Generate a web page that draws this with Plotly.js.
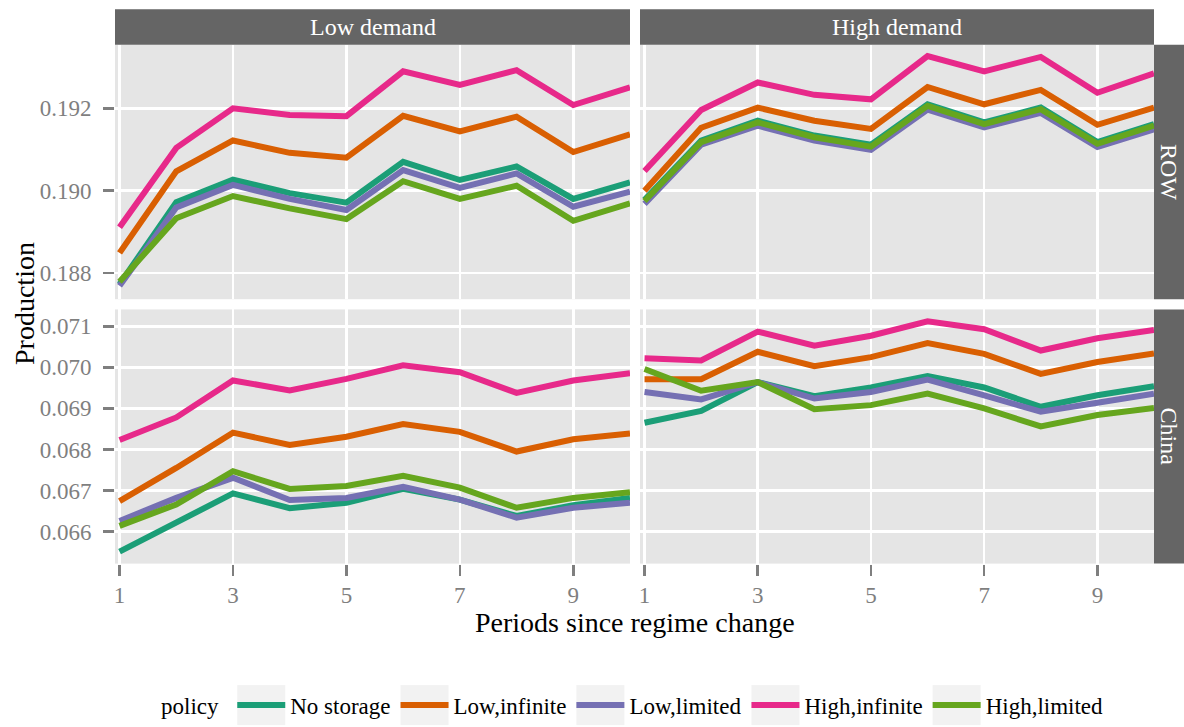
<!DOCTYPE html>
<html>
<head>
<meta charset="utf-8">
<script src="https://cdn.plot.ly/plotly-3.0.1.min.js"></script>
<style>
  html, body { margin: 0; padding: 0; background: #ffffff; }
  #chart { width: 1184px; height: 727px; }
</style>
</head>
<body>
<div id="chart"></div>
<script>
// Periods since the regime change (x values shared by every panel)
const periods = [1, 2, 3, 4, 5, 6, 7, 8, 9, 10];

// Storage policies, in legend order, with their colours
const policies = ["No storage", "Low,infinite", "Low,limited", "High,infinite", "High,limited"];
const policyColors = ["#1B9E77", "#D95F02", "#7570B3", "#E7298A", "#66A61E"];

// Facet labels
const demandLabels = ["Low demand", "High demand"];
const regionLabels = ["ROW", "China"];

// Production, ROW, low demand (one array per policy, same order as `policies`)
const rowLowNoStorage   = [0.18773, 0.18972, 0.19027, 0.18994, 0.18971, 0.19070, 0.19026, 0.19059, 0.18980, 0.19020];
const rowLowLowInf      = [0.18849, 0.19047, 0.19122, 0.19092, 0.19080, 0.19182, 0.19144, 0.19180, 0.19094, 0.19137];
const rowLowLowLim      = [0.18769, 0.18959, 0.19014, 0.18980, 0.18953, 0.19050, 0.19007, 0.19042, 0.18961, 0.18998];
const rowLowHighInf     = [0.18911, 0.19104, 0.19200, 0.19184, 0.19181, 0.19290, 0.19257, 0.19293, 0.19208, 0.19251];
const rowLowHighLim     = [0.18779, 0.18933, 0.18987, 0.18957, 0.18931, 0.19023, 0.18980, 0.19012, 0.18927, 0.18969];

// Production, ROW, high demand
const rowHighNoStorage  = [0.18978, 0.19122, 0.19170, 0.19134, 0.19112, 0.19210, 0.19166, 0.19202, 0.19118, 0.19162];
const rowHighLowInf     = [0.19000, 0.19153, 0.19202, 0.19170, 0.19150, 0.19252, 0.19210, 0.19245, 0.19160, 0.19202];
const rowHighLowLim     = [0.18968, 0.19112, 0.19158, 0.19122, 0.19099, 0.19197, 0.19154, 0.19189, 0.19106, 0.19149];
const rowHighHighInf    = [0.19048, 0.19196, 0.19263, 0.19233, 0.19222, 0.19327, 0.19290, 0.19325, 0.19238, 0.19285];
const rowHighHighLim    = [0.18975, 0.19118, 0.19166, 0.19130, 0.19107, 0.19206, 0.19162, 0.19198, 0.19114, 0.19158];

// Production, China, low demand
const chnLowNoStorage   = [0.06551, 0.06622, 0.06693, 0.06657, 0.06670, 0.06704, 0.06678, 0.06638, 0.06664, 0.06682];
const chnLowLowInf      = [0.06674, 0.06755, 0.06841, 0.06811, 0.06831, 0.06862, 0.06843, 0.06795, 0.06825, 0.06839];
const chnLowLowLim      = [0.06626, 0.06682, 0.06731, 0.06677, 0.06682, 0.06709, 0.06678, 0.06634, 0.06658, 0.06670];
const chnLowHighInf     = [0.06823, 0.06878, 0.06968, 0.06944, 0.06972, 0.07005, 0.06988, 0.06938, 0.06968, 0.06986];
const chnLowHighLim     = [0.06614, 0.06666, 0.06747, 0.06704, 0.06711, 0.06736, 0.06707, 0.06658, 0.06682, 0.06696];

// Production, China, high demand
const chnHighNoStorage  = [0.06865, 0.06894, 0.06964, 0.06930, 0.06951, 0.06979, 0.06951, 0.06904, 0.06932, 0.06954];
const chnHighLowInf     = [0.06971, 0.06971, 0.07038, 0.07003, 0.07025, 0.07059, 0.07033, 0.06984, 0.07013, 0.07034];
const chnHighLowLim     = [0.06940, 0.06922, 0.06964, 0.06924, 0.06940, 0.06970, 0.06932, 0.06892, 0.06914, 0.06936];
const chnHighHighInf    = [0.07022, 0.07017, 0.07087, 0.07053, 0.07077, 0.07112, 0.07093, 0.07041, 0.07071, 0.07091];
const chnHighHighLim    = [0.06996, 0.06943, 0.06964, 0.06898, 0.06908, 0.06936, 0.06900, 0.06856, 0.06884, 0.06901];

// Axis ticks
const xTicks = [1, 3, 5, 7, 9];
const rowTicks = [0.188, 0.190, 0.192];
const chinaTicks = [0.066, 0.067, 0.068, 0.069, 0.070, 0.071];

// Panels: [series list, x axis id, y axis id]
const panels = [
  [[rowLowNoStorage, rowLowLowInf, rowLowLowLim, rowLowHighInf, rowLowHighLim], "x", "y"],
  [[rowHighNoStorage, rowHighLowInf, rowHighLowLim, rowHighHighInf, rowHighHighLim], "x2", "y2"],
  [[chnLowNoStorage, chnLowLowInf, chnLowLowLim, chnLowHighInf, chnLowHighLim], "x3", "y3"],
  [[chnHighNoStorage, chnHighLowInf, chnHighLowLim, chnHighHighInf, chnHighHighLim], "x4", "y4"]
];

const traces = [];
panels.forEach(([series, xa, ya], p) => {
  series.forEach((vals, i) => {
    traces.push({
      type: "scatter",
      mode: "lines",
      x: periods,
      y: vals,
      xaxis: xa,
      yaxis: ya,
      name: policies[i],
      legendgroup: policies[i],
      showlegend: p === 0,
      line: { color: policyColors[i], width: 6 },
      hoverinfo: "skip"
    });
  });
});

const W = 1184, H = 727;
const FONT = "Liberation Serif, Times New Roman, serif";
const TICKGREY = "#7F7F7F";
const STRIP = "#656565";

// Pixel geometry of the facet grid
const colL = [115 / W, 630 / W];
const colR = [640 / W, 1154 / W];
const rowTop = [1 - 301.7 / H, 1 - 45 / H];
const rowBot = [1 - 568.3 / H, 1 - 312 / H];
const stripTop = [1 - 45 / H, 1 - 9.3 / H];
const stripRight = [1154 / W, 1];

const xRange = [0.92, 10.0];

function xAxis(domain, anchor, showLabels) {
  return {
    domain: domain, anchor: anchor, range: xRange,
    tickvals: xTicks, ticktext: xTicks.map(String),
    showticklabels: showLabels,
    ticks: showLabels ? "outside" : "", ticklen: 11, tickwidth: 2.5, tickcolor: TICKGREY,
    tickfont: { family: FONT, size: 23, color: TICKGREY },
    showgrid: true, gridcolor: "#FFFFFF", gridwidth: 2.5,
    zeroline: false, showline: false, fixedrange: true
  };
}
function yAxis(domain, anchor, range, ticks, showLabels) {
  return {
    domain: domain, anchor: anchor, range: range,
    tickvals: ticks, ticktext: ticks.map(v => v.toFixed(3)),
    showticklabels: showLabels,
    ticks: showLabels ? "outside" : "", ticklen: 11, tickwidth: 2.5, tickcolor: TICKGREY,
    ticklabelstandoff: 7,
    tickfont: { family: FONT, size: 23, color: TICKGREY },
    showgrid: true, gridcolor: "#FFFFFF", gridwidth: 2.5,
    zeroline: false, showline: false, fixedrange: true
  };
}

const rowRange = [0.187364, 0.193549];
const chinaRange = [0.065220, 0.071411];

const shapes = [
  // column strips
  { type: "rect", xref: "paper", yref: "paper", x0: colL[0], x1: colL[1], y0: stripTop[0], y1: stripTop[1], fillcolor: STRIP, line: { width: 0 }, layer: "below" },
  { type: "rect", xref: "paper", yref: "paper", x0: colR[0], x1: colR[1], y0: stripTop[0], y1: stripTop[1], fillcolor: STRIP, line: { width: 0 }, layer: "below" },
  // row strips
  { type: "rect", xref: "paper", yref: "paper", x0: stripRight[0], x1: stripRight[1], y0: rowTop[0], y1: rowTop[1], fillcolor: STRIP, line: { width: 0 }, layer: "below" },
  { type: "rect", xref: "paper", yref: "paper", x0: stripRight[0], x1: stripRight[1], y0: rowBot[0], y1: rowBot[1], fillcolor: STRIP, line: { width: 0 }, layer: "below" }
];

const stripFont = { family: FONT, size: 24, color: "#FFFFFF" };
const annotations = [
  { text: demandLabels[0], xref: "paper", yref: "paper", x: (colL[0] + colL[1]) / 2, y: (stripTop[0] + stripTop[1]) / 2, showarrow: false, font: stripFont, xanchor: "center", yanchor: "middle" },
  { text: demandLabels[1], xref: "paper", yref: "paper", x: (colR[0] + colR[1]) / 2, y: (stripTop[0] + stripTop[1]) / 2, showarrow: false, font: stripFont, xanchor: "center", yanchor: "middle" },
  { text: regionLabels[0], xref: "paper", yref: "paper", x: (stripRight[0] + stripRight[1]) / 2, y: (rowTop[0] + rowTop[1]) / 2, showarrow: false, font: stripFont, textangle: 90, xanchor: "center", yanchor: "middle" },
  { text: regionLabels[1], xref: "paper", yref: "paper", x: (stripRight[0] + stripRight[1]) / 2, y: (rowBot[0] + rowBot[1]) / 2, showarrow: false, font: stripFont, textangle: 90, xanchor: "center", yanchor: "middle" },
  // shared axis titles
  { text: "Periods since regime change", xref: "paper", yref: "paper", x: (colL[0] + colR[1]) / 2, y: 1 - 628 / H, showarrow: false, font: { family: FONT, size: 28, color: "#000000" }, xanchor: "center", yanchor: "middle" },
  { text: "Production", xref: "paper", yref: "paper", x: 25 / W, y: 1 - 306.5 / H, showarrow: false, font: { family: FONT, size: 28, color: "#000000" }, textangle: -90, xanchor: "center", yanchor: "middle" }
];

const layout = {
  width: W, height: H,
  margin: { l: 0, r: 0, t: 0, b: 0, pad: 0 },
  paper_bgcolor: "#FFFFFF",
  plot_bgcolor: "#E5E5E5",
  font: { family: FONT, size: 22, color: "#000000" },
  xaxis: xAxis(colL, "y", false),
  xaxis2: xAxis(colR, "y2", false),
  xaxis3: xAxis(colL, "y3", true),
  xaxis4: xAxis(colR, "y4", true),
  yaxis: yAxis(rowTop, "x", rowRange, rowTicks, true),
  yaxis2: yAxis(rowTop, "x2", rowRange, rowTicks, false),
  yaxis3: yAxis(rowBot, "x3", chinaRange, chinaTicks, true),
  yaxis4: yAxis(rowBot, "x4", chinaRange, chinaTicks, false),
  showlegend: true,
  legend: {
    orientation: "h",
    x: 634 / W, xanchor: "center",
    y: 1 - 711 / H, yanchor: "middle",
    font: { family: FONT, size: 23, color: "#000000" },
    title: { text: "policy ", side: "left", font: { family: FONT, size: 23, color: "#000000" } },
    bgcolor: "rgba(0,0,0,0)",
    itemwidth: 48,
    tracegroupgap: 0,
    traceorder: "normal"
  },
  shapes: shapes,
  annotations: annotations
};

Plotly.newPlot("chart", traces, layout, { staticPlot: true, displayModeBar: false }).then(gd => {
  // light grey key background behind each legend line symbol
  const NS = "http://www.w3.org/2000/svg";
  gd.querySelectorAll(".legend .traces").forEach(item => {
    const path = item.querySelector(".legendlines path");
    if (!path) return;
    const bb = path.getBBox();
    const cx = bb.x + bb.width / 2;
    const rect = document.createElementNS(NS, "rect");
    const w = 48, h = 40;
    rect.setAttribute("x", cx - w / 2);
    rect.setAttribute("y", -h / 2);
    rect.setAttribute("width", w);
    rect.setAttribute("height", h);
    rect.setAttribute("fill", "#F2F2F2");
    const layers = item.querySelector(".layers") || item.firstChild;
    layers.parentNode.insertBefore(rect, layers);
  });
});
</script>
</body>
</html>
